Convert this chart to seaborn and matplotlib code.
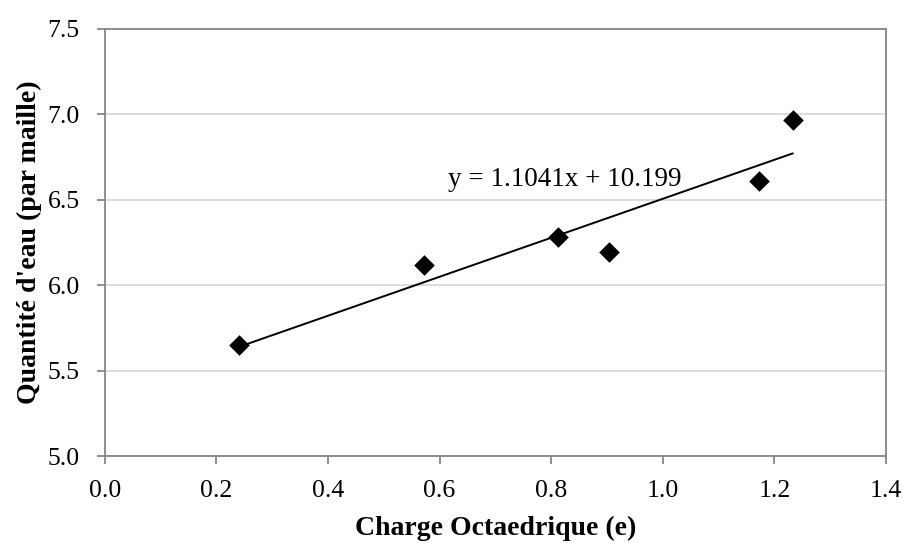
import seaborn as sns
import matplotlib.pyplot as plt
import pandas as pd

# values
charge = [0.241, 0.573, 0.813, 0.903, 1.172, 1.233]
eau = [5.65, 6.118, 6.284, 6.196, 6.608, 6.966]
equation = 'y = 1.1041x + 10.199'

df = pd.DataFrame({'Charge Octaedrique (e)': charge, "Quantité d'eau (par maille)": eau})

sns.set_style('white')
plt.rcParams['font.family'] = ['Liberation Serif', 'DejaVu Serif']
plt.rcParams['text.color'] = 'black'
plt.rcParams['axes.labelcolor'] = 'black'
plt.rcParams['xtick.color'] = 'black'
plt.rcParams['ytick.color'] = 'black'

fig, ax = plt.subplots(figsize=(9.06, 5.43), dpi=100)
fig.subplots_adjust(left=0.1155, right=0.978, top=0.9466, bottom=0.160)

sns.regplot(x='Charge Octaedrique (e)', y="Quantité d'eau (par maille)", data=df,
            ci=None, marker='D', color='black', ax=ax,
            scatter_kws={'s': 110, 'linewidths': 0, 'alpha': 1, 'zorder': 3},
            line_kws={'linewidth': 1.4, 'color': 'black'})

ax.set_xlim(0, 1.4)
ax.set_ylim(5.0, 7.5)
ax.set_xticks([0.0, 0.2, 0.4, 0.6, 0.8, 1.0, 1.2, 1.4])
ax.set_yticks([5.0, 5.5, 6.0, 6.5, 7.0, 7.5])
ax.xaxis.set_major_formatter(plt.FormatStrFormatter('%.1f'))
ax.yaxis.set_major_formatter(plt.FormatStrFormatter('%.1f'))

ax.yaxis.grid(True, color='#d9d9d9', linewidth=1.3)
ax.xaxis.grid(False)
ax.set_axisbelow(True)
for side in ['top', 'right', 'left', 'bottom']:
    ax.spines[side].set_visible(True)
    ax.spines[side].set_color('#868686')
    ax.spines[side].set_linewidth(1.3)

ax.tick_params(axis='both', which='major', direction='out', length=6, width=1.3,
               color='#868686', labelcolor='black', labelsize=18.5,
               bottom=True, left=True)
ax.tick_params(axis='x', pad=11)
ax.tick_params(axis='y', pad=12)

ax.set_xlabel('Charge Octaedrique (e)', fontsize=20, fontweight='bold', labelpad=10)
ax.set_ylabel("Quantité d'eau (par maille)", fontsize=20, fontweight='bold', labelpad=4)

ax.text(0.616, 6.58, equation, fontsize=19.5, ha='left', va='baseline')

plt.savefig('out.png', dpi=100)
